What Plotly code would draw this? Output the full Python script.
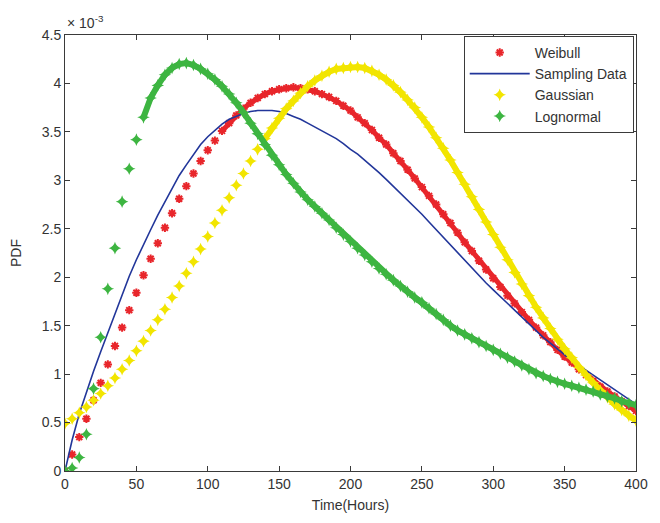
import plotly.graph_objects as go

# time axis (hours), sampled every 5 h
time_h = list(range(0, 401, 5))

# PDF values in units of 1e-3
weibull = [0.00, 0.17, 0.35, 0.54, 0.73, 0.91, 1.10, 1.29, 1.48, 1.66, 1.84, 2.02, 2.19, 2.35, 2.51, 2.66,
           2.81, 2.94, 3.07, 3.20, 3.31, 3.41, 3.51, 3.59, 3.67, 3.74, 3.80, 3.85, 3.89, 3.92, 3.94, 3.95,
           3.96, 3.95, 3.94, 3.92, 3.89, 3.86, 3.82, 3.77, 3.72, 3.65, 3.59, 3.52, 3.44, 3.37, 3.28, 3.20,
           3.11, 3.02, 2.93, 2.84, 2.75, 2.65, 2.56, 2.46, 2.36, 2.27, 2.17, 2.08, 1.99, 1.90, 1.81, 1.73,
           1.64, 1.56, 1.48, 1.40, 1.33, 1.25, 1.18, 1.12, 1.05, 0.99, 0.93, 0.87, 0.82, 0.77, 0.72, 0.67,
           0.62]

sampling = [0.00, 0.32, 0.59, 0.82, 1.03, 1.23, 1.43, 1.63, 1.83, 2.01, 2.18, 2.34, 2.49, 2.64, 2.78, 2.92,
            3.05, 3.16, 3.27, 3.37, 3.45, 3.52, 3.58, 3.63, 3.66, 3.69, 3.71, 3.72, 3.72, 3.72, 3.71, 3.69,
            3.66, 3.63, 3.59, 3.55, 3.51, 3.47, 3.43, 3.38, 3.32, 3.27, 3.21, 3.14, 3.08, 3.01, 2.94, 2.87,
            2.80, 2.72, 2.65, 2.57, 2.49, 2.41, 2.33, 2.25, 2.17, 2.09, 2.01, 1.94, 1.87, 1.80, 1.72, 1.65,
            1.58, 1.51, 1.44, 1.38, 1.32, 1.26, 1.20, 1.14, 1.09, 1.04, 0.99, 0.94, 0.89, 0.84, 0.79, 0.74,
            0.69]

gaussian = [0.49, 0.54, 0.60, 0.66, 0.73, 0.80, 0.88, 0.96, 1.05, 1.14, 1.24, 1.34, 1.45, 1.56, 1.67, 1.79,
            1.91, 2.04, 2.16, 2.29, 2.42, 2.56, 2.69, 2.82, 2.95, 3.07, 3.20, 3.32, 3.43, 3.54, 3.64, 3.74,
            3.82, 3.90, 3.97, 4.03, 4.08, 4.12, 4.15, 4.16, 4.17, 4.17, 4.16, 4.13, 4.09, 4.04, 3.98, 3.91,
            3.83, 3.75, 3.65, 3.55, 3.44, 3.33, 3.21, 3.08, 2.96, 2.83, 2.70, 2.57, 2.44, 2.31, 2.18, 2.05,
            1.93, 1.81, 1.69, 1.58, 1.47, 1.36, 1.26, 1.17, 1.07, 0.99, 0.91, 0.83, 0.76, 0.69, 0.63, 0.57,
            0.52]

lognormal = [0.00, 0.03, 0.14, 0.38, 0.85, 1.38, 1.88, 2.30, 2.78, 3.12, 3.42, 3.65, 3.85, 3.98, 4.09, 4.16,
             4.20, 4.21, 4.19, 4.15, 4.10, 4.04, 3.97, 3.89, 3.80, 3.70, 3.59, 3.48, 3.37, 3.26, 3.16, 3.06,
             2.97, 2.88, 2.80, 2.73, 2.66, 2.59, 2.51, 2.44, 2.37, 2.30, 2.23, 2.16, 2.09, 2.03, 1.97, 1.91,
             1.85, 1.79, 1.74, 1.68, 1.62, 1.56, 1.50, 1.45, 1.41, 1.37, 1.33, 1.29, 1.25, 1.21, 1.17, 1.13,
             1.09, 1.05, 1.01, 0.98, 0.95, 0.92, 0.90, 0.88, 0.86, 0.84, 0.82, 0.79, 0.77, 0.75, 0.72, 0.70,
             0.68]

x_ticks = [0, 50, 100, 150, 200, 250, 300, 350, 400]
y_ticks = [0, 0.5, 1, 1.5, 2, 2.5, 3, 3.5, 4, 4.5]
y_tick_text = ["0", "0.5", "1", "1.5", "2", "2.5", "3", "3.5", "4", "4.5"]

RED = "#e8262b"
BLUE = "#22369a"
YELLOW = "#f2e500"
GREEN = "#3db541"
AXIS = "#3a3a3a"
TXT = "#333333"
FONT = "Liberation Sans, Arial, sans-serif"

# index from which each marker series is dense enough to look like a continuous band
band_start = {"weibull": 22, "gaussian": 28, "lognormal": 11}

fig = go.Figure()

# dense band portions (drawn under the markers, same data)
fig.add_trace(go.Scatter(x=time_h[band_start["weibull"]:], y=weibull[band_start["weibull"]:],
                         mode="lines", line=dict(color=RED, width=5), showlegend=False, hoverinfo="skip"))

fig.add_trace(go.Scatter(x=time_h, y=weibull, mode="markers", name="Weibull",
                         marker=dict(symbol="asterisk-open", size=7, color=RED,
                                     line=dict(color=RED, width=2))))
fig.add_trace(go.Scatter(x=time_h, y=sampling, mode="lines", name="Sampling Data",
                         line=dict(color=BLUE, width=1.6)))

fig.add_trace(go.Scatter(x=time_h[band_start["gaussian"]:], y=gaussian[band_start["gaussian"]:],
                         mode="lines", line=dict(color=YELLOW, width=6), showlegend=False, hoverinfo="skip"))
fig.add_trace(go.Scatter(x=time_h, y=gaussian, mode="markers", name="Gaussian",
                         marker=dict(symbol="star-diamond", size=9, color=YELLOW,
                                     line=dict(width=0))))

fig.add_trace(go.Scatter(x=time_h[band_start["lognormal"]:], y=lognormal[band_start["lognormal"]:],
                         mode="lines", line=dict(color=GREEN, width=6), showlegend=False, hoverinfo="skip"))
fig.add_trace(go.Scatter(x=time_h, y=lognormal, mode="markers", name="Lognormal",
                         marker=dict(symbol="star-diamond", size=9, color=GREEN,
                                     line=dict(width=0))))

axis_common = dict(showgrid=False, zeroline=False, showline=True, linecolor=AXIS, linewidth=1,
                   mirror="ticks", ticks="inside", ticklen=5, tickcolor=AXIS,
                   tickfont=dict(family=FONT, size=14, color=TXT))

fig.update_xaxes(range=[0, 400], tickvals=x_ticks, **axis_common,
                 title=dict(text="Time(Hours)", font=dict(family=FONT, size=14, color=TXT), standoff=9))
fig.update_yaxes(range=[0, 4.5], tickvals=y_ticks, ticktext=y_tick_text, **axis_common,
                 title=dict(text="PDF", font=dict(family=FONT, size=14, color=TXT), standoff=16))

fig.add_annotation(xref="paper", yref="paper", x=0.0, y=1.0, xanchor="left", yanchor="bottom",
                   text="× 10<sup>-3</sup>", showarrow=False, yshift=2,
                   font=dict(family=FONT, size=14, color=TXT))

fig.update_layout(
    width=660, height=523,
    margin=dict(l=65, r=15, t=35, b=46),
    paper_bgcolor="white", plot_bgcolor="white",
    showlegend=True,
    legend=dict(x=0.996, y=0.998, xanchor="right", yanchor="top",
                bgcolor="white", bordercolor=AXIS, borderwidth=1,
                font=dict(family=FONT, size=14, color=TXT), itemwidth=60,
                tracegroupgap=0),
)

fig.write_html("out.html")
